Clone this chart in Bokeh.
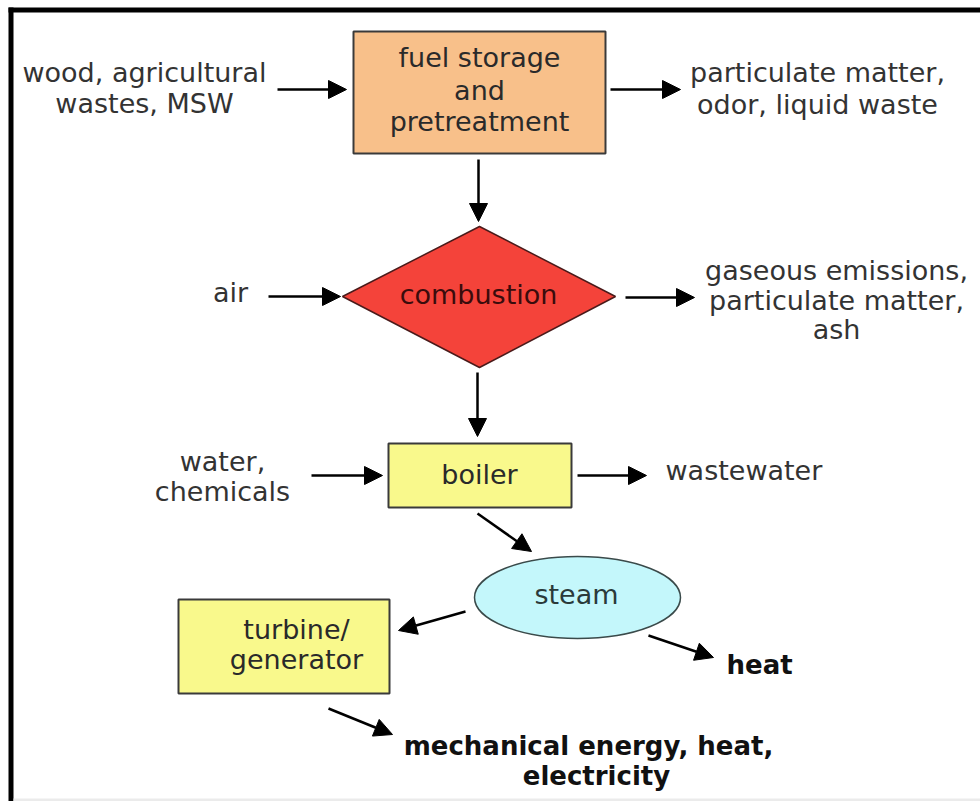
from bokeh.plotting import figure
from bokeh.models import Range1d, Arrow, NormalHead, ColumnDataSource
from bokeh.core.properties import value
from bokeh.embed import file_html
from bokeh.resources import INLINE

# ---- content (texts of the flow chart) ----
input_fuel = ["wood, agricultural", "wastes, MSW"]
fuel_node = ["fuel storage", "and", "pretreatment"]
fuel_output = ["particulate matter,", "odor, liquid waste"]
air_input = ["air"]
combustion_node = ["combustion"]
combustion_output = ["gaseous emissions,", "particulate matter,", "ash"]
water_input = ["water,", "chemicals"]
boiler_node = ["boiler"]
boiler_output = ["wastewater"]
steam_node = ["steam"]
turbine_node = ["turbine/", "generator"]
steam_output = ["heat"]
turbine_output = ["mechanical energy, heat,", "electricity"]

# ---- layout (page pixels) ----
W, H = 980, 801

FONT = "DejaVu Sans"
TXT = "#333333"

# (lines, x per line, text line positions, align, bold, color)
text_blocks = [
    (input_fuel, [144, 144], [72, 103], "center", False, TXT),
    (fuel_node, [479, 479, 479], [57, 90, 121], "center", False, "#2a2a2a"),
    (fuel_output, [817, 817], [72, 104], "center", False, TXT),
    (air_input, [230], [292], "center", False, TXT),
    (combustion_node, [478], [294], "center", False, "#3a0c0c"),
    (combustion_output, [836, 836, 836], [270, 300, 329], "center", False, TXT),
    (water_input, [222, 222], [461, 491], "center", False, TXT),
    (boiler_node, [479], [474], "center", False, "#2a2a2a"),
    (boiler_output, [665], [470], "left", False, TXT),
    (steam_node, [576], [594], "center", False, "#2a3a3a"),
    (turbine_node, [296, 296], [629, 659], "center", False, "#2a2a2a"),
    (steam_output, [726], [664], "left", True, "#111111"),
    (turbine_output, [588, 596], [745, 775], "center", True, "#111111"),
]

boxes_left = [353, 388, 178]
boxes_right = [605, 571, 389]
boxes_top = [31, 443, 599]
boxes_bottom = [153, 507, 693]
boxes_fill = ["#F8C08A", "#F9F98C", "#F9F98C"]

diamond_x = [342, 479, 615, 479]
diamond_y = [296, 226, 296, 367]

steam_cx, steam_cy, steam_w, steam_h = 577, 597, 206, 82

arrows_x0 = [277, 610, 478, 268, 625, 477, 311, 577, 477, 465, 648, 328]
arrows_y0 = [89, 89, 159, 296, 297, 372, 475, 475, 513, 611, 635, 708]
arrows_x1 = [346, 680, 478, 340, 694, 477, 382, 646, 531, 398, 713, 392]
arrows_y1 = [89, 89, 221, 296, 297, 436, 475, 475, 551, 630, 657, 734]

p = figure(width=W, height=H, output_backend="svg", toolbar_location=None,
           x_range=Range1d(0, W), y_range=Range1d(H, 0),
           x_axis_location=None, y_axis_location=None, min_border=0,
           tools="")
p.grid.visible = False
p.outline_line_color = None
p.background_fill_color = "white"
p.border_fill_color = "white"

# frame of the picture (left and top black bars, faint bottom line)
p.quad(left=[8, 8], right=[13, W], top=[7, 7], bottom=[H, 12],
       fill_color="black", line_color=None)
p.quad(left=[13], right=[W], top=[798], bottom=[H], fill_color="#EBEBEB", line_color=None)

# boxes
p.quad(left=boxes_left, right=boxes_right, top=boxes_top, bottom=boxes_bottom,
       fill_color=boxes_fill, line_color="#3a3a3a", line_width=2)

# diamond
p.patch(diamond_x, diamond_y, fill_color="#F4433A", line_color="#4a1a1a", line_width=1.5)

# ellipse
p.ellipse(x=[steam_cx], y=[steam_cy], width=[steam_w], height=[steam_h],
          fill_color="#C4F7FB", line_color="#3a4a4a", line_width=1.5)

# arrows
asrc = ColumnDataSource(dict(x0=arrows_x0, y0=arrows_y0, x1=arrows_x1, y1=arrows_y1))
p.add_layout(Arrow(end=NormalHead(size=18, fill_color="black", line_color="black", line_width=1),
                   x_start="x0", y_start="y0", x_end="x1", y_end="y1", source=asrc,
                   line_color="black", line_width=2.5))

# texts
for lines, xs, ys, align, bold, color in text_blocks:
    p.text(x=xs, y=ys, text=lines, text_align=align, text_baseline="alphabetic",
           text_font=value(FONT), text_font_size="26px" if bold else "27px",
           text_font_style="bold" if bold else "normal", text_color=color)

open("out.html", "w").write(file_html(p, INLINE))
